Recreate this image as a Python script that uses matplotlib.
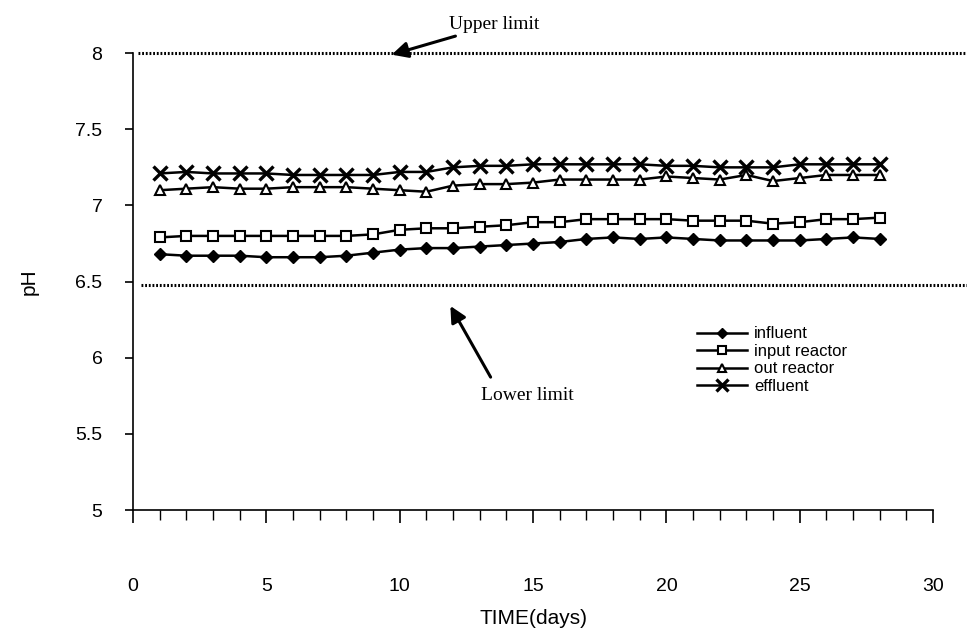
import matplotlib
matplotlib.use("Agg")
import matplotlib.pyplot as plt
from matplotlib.ticker import MultipleLocator

days = list(range(1, 29))
influent = [6.68, 6.67, 6.67, 6.67, 6.66, 6.66, 6.66, 6.67, 6.69, 6.71, 6.72, 6.72, 6.73, 6.74,
            6.75, 6.76, 6.78, 6.79, 6.78, 6.79, 6.78, 6.77, 6.77, 6.77, 6.77, 6.78, 6.79, 6.78]
input_reactor = [6.79, 6.80, 6.80, 6.80, 6.80, 6.80, 6.80, 6.80, 6.81, 6.84, 6.85, 6.85, 6.86, 6.87,
                 6.89, 6.89, 6.91, 6.91, 6.91, 6.91, 6.90, 6.90, 6.90, 6.88, 6.89, 6.91, 6.91, 6.92]
out_reactor = [7.10, 7.11, 7.12, 7.11, 7.11, 7.12, 7.12, 7.12, 7.11, 7.10, 7.09, 7.13, 7.14, 7.14,
               7.15, 7.17, 7.17, 7.17, 7.17, 7.19, 7.18, 7.17, 7.20, 7.16, 7.18, 7.20, 7.20, 7.20]
effluent = [7.21, 7.22, 7.21, 7.21, 7.21, 7.20, 7.20, 7.20, 7.20, 7.22, 7.22, 7.25, 7.26, 7.26,
            7.27, 7.27, 7.27, 7.27, 7.27, 7.26, 7.26, 7.25, 7.25, 7.25, 7.27, 7.27, 7.27, 7.27]
upper_limit = 8.0
lower_limit = 6.48
xticks = [0, 5, 10, 15, 20, 25, 30]
yticks = [5, 5.5, 6, 6.5, 7, 7.5, 8]

plt.rcParams['font.family'] = ['Liberation Sans', 'DejaVu Sans']

fig = plt.figure(figsize=(9.67, 6.4), dpi=100)
ax = fig.add_axes([0.1375, 0.203, 0.8275, 0.714])

ax.plot(days, influent, color='black', lw=1.8, marker='D', ms=6.5, mfc='black', mec='black', label='influent')
ax.plot(days, input_reactor, color='black', lw=1.8, marker='s', ms=7.5, mfc='white', mec='black', mew=1.5, label='input reactor')
ax.plot(days, out_reactor, color='black', lw=1.8, marker='^', ms=7.5, mfc='white', mec='black', mew=1.5, label='out reactor')
ax.plot(days, effluent, color='black', lw=1.8, marker='x', ms=10, mec='black', mew=2.4, label='effluent')

ax.plot([0.2, 31.3], [upper_limit, upper_limit], color='black', lw=2.2, ls=(0, (0.6, 0.6)), clip_on=False)
ax.plot([0.3, 31.3], [lower_limit, lower_limit], color='black', lw=2.2, ls=(0, (0.6, 0.6)), clip_on=False)

ax.annotate('Upper limit', xy=(9.7, 7.99), xytext=(11.85, 8.13), fontsize=14, family='Liberation Serif',
            ha='left', va='bottom', annotation_clip=False,
            arrowprops=dict(arrowstyle='-|>', color='black', lw=2.2, mutation_scale=24, shrinkA=0, shrinkB=0))
ax.annotate('Lower limit', xy=(11.9, 6.34), xytext=(14.8, 5.75), fontsize=14, family='Liberation Serif',
            ha='center', va='center', annotation_clip=False,
            arrowprops=dict(arrowstyle='-|>', color='black', lw=2.2, mutation_scale=24, shrinkA=0, shrinkB=0,
                            relpos=(0.1, 1.6)))

ax.set_xlim(0, 30)
ax.set_ylim(5, 8)
ax.set_xticks(xticks)
ax.set_yticks(yticks)
ax.set_yticklabels(['5', '5.5', '6', '6.5', '7', '7.5', '8'])
ax.xaxis.set_minor_locator(MultipleLocator(1))
ax.spines['top'].set_visible(False)
ax.spines['right'].set_visible(False)
ax.spines['left'].set_linewidth(1.2)
ax.spines['bottom'].set_linewidth(1.2)
ax.tick_params(axis='x', which='major', direction='out', length=9, width=1.2, pad=40, labelsize=14)
ax.tick_params(axis='x', which='minor', direction='out', length=7, width=1.0)
ax.tick_params(axis='y', which='major', direction='out', length=6, width=1.2, pad=16, labelsize=14)

ax.set_xlabel('TIME(days)', fontsize=15, labelpad=10)
ax.set_ylabel('pH', fontsize=15, labelpad=26)

ax.legend(loc='upper left', bbox_to_anchor=(0.695, 0.42), frameon=False, fontsize=12,
          handlelength=3.0, handletextpad=0.4, labelspacing=0.15, borderpad=0, markerscale=0.85)

fig.savefig('out.png', dpi=100, facecolor='white')
